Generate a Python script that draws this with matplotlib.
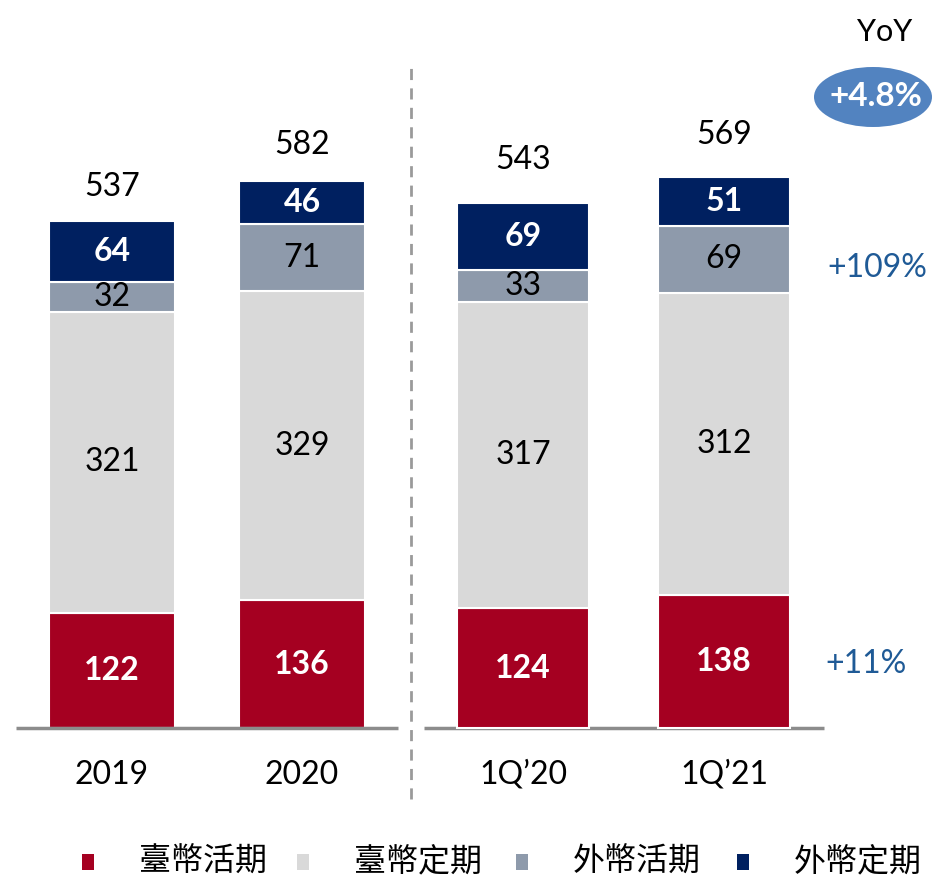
import matplotlib.pyplot as plt
from matplotlib.patches import Ellipse, Rectangle
import numpy as np

plt.rcParams['font.family'] = ['Lato', 'Noto Sans CJK TC', 'DejaVu Sans']

# data (units as shown in the chart)
periods = ['2019', '2020', '1Q’20', '1Q’21']
twd_demand = [122, 136, 124, 138]     # 臺幣活期
twd_time = [321, 329, 317, 312]       # 臺幣定期
fx_demand = [32, 71, 33, 69]          # 外幣活期
fx_time = [64, 46, 69, 51]            # 外幣定期
totals = [537, 582, 543, 569]
series_names = ['臺幣活期', '臺幣定期', '外幣活期', '外幣定期']
yoy_total = '+4.8%'
yoy_fx = '+109%'
yoy_twd_demand = '+11%'

colors = ['#A50021', '#D9D9D9', '#8E9AAB', '#002060']
label_colors = ['white', 'black', 'black', 'white']
label_weights = ['bold', 'normal', 'normal', 'bold']

W, H = 935, 881
fig = plt.figure(figsize=(W / 100, H / 100), dpi=100)

# annual bars and quarterly bars are drawn on their own panels (different scales)
x_pos = np.array([0, 1, 2.163, 3.221])
groups = [(slice(0, 2), 0.94, 0.663, 38), (slice(2, 4), 0.967, 0.695, 44)]
series = [twd_demand, twd_time, fx_demand, fx_time]

axes = []
for sl, px_per_unit, width, tot_off in groups:
    ax = fig.add_axes([0, 0, 1, 1])
    ax.patch.set_alpha(0)
    ax.set_xlim(-112 / 190, (W - 112) / 190)
    ax.set_ylim(-153 / px_per_unit, (H - 153) / px_per_unit)
    ax.axis('off')
    xs = x_pos[sl]
    bottom = np.zeros(len(xs))
    for vals, col, lc, lw in zip(series, colors, label_colors, label_weights):
        vals = np.array(vals[sl])
        ax.bar(xs, vals, width=width, bottom=bottom, color=col,
               edgecolor='white', linewidth=1.5)
        for x, b, v in zip(xs, bottom, vals):
            ax.text(x, b + v / 2, str(v), ha='center', va='center',
                    fontsize=23, color=lc, fontweight=lw)
        bottom = bottom + vals
    for x, t in zip(xs, totals[sl]):
        ax.text(x, t + tot_off, str(t), ha='center', va='center', fontsize=23, color='black')
    for x, p in zip(xs, periods[sl]):
        ax.text(x, -50 / px_per_unit * 0.94, p, ha='center', va='center', fontsize=23, color='black')
    axes.append(ax)

ax = axes[0]
# baseline segments and separator
ax.plot([-0.506, 1.505], [0, 0], color='#8C8C8C', lw=2.5, solid_capstyle='butt')
ax.plot([1.642, 3.747], [0, 0], color='#8C8C8C', lw=2.5, solid_capstyle='butt')
ax.plot([1.574, 1.574], [-76, 705], color='#9A9A9A', lw=2, linestyle=(0, (4, 3)))

# YoY notes
fig.text(885 / W, 1 - 32 / H, 'YoY', ha='center', va='center', fontsize=22, color='black')
fig.patches.append(Ellipse((873 / W, 1 - 97 / H), 118 / W, 60 / H,
                           transform=fig.transFigure, facecolor='#5283C0', edgecolor='none'))
fig.text(876 / W, 1 - 97 / H, yoy_total, ha='center', va='center', fontsize=24,
         color='white', fontweight='bold')
fig.text(877 / W, 1 - 268 / H, yoy_fx, ha='center', va='center', fontsize=23, color='#1F5A96')
fig.text(866 / W, 1 - 664 / H, yoy_twd_demand, ha='center', va='center', fontsize=23, color='#1F5A96')

# legend
sq_x = [88, 303, 522, 743]
for sx, name, col in zip(sq_x, series_names, colors):
    fig.patches.append(Rectangle(((sx - 6) / W, 1 - 870 / H), 12 / W, 16 / H,
                                 transform=fig.transFigure, facecolor=col, edgecolor='none'))
    fig.text((sx + 51) / W, 1 - 862 / H, name, ha='left', va='center', fontsize=23,
             color='black', family=['Noto Sans CJK TC', 'DejaVu Sans'])

fig.savefig('out.png', dpi=100)
